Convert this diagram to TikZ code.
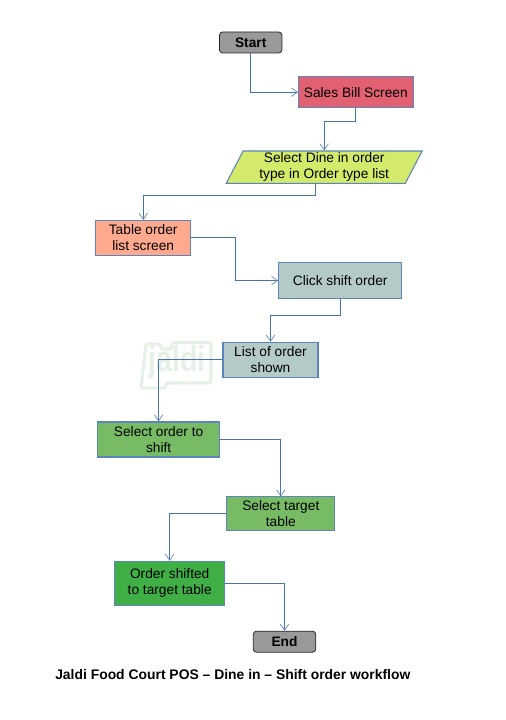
\documentclass[tikz,border=0pt]{standalone}
\usepackage{fontspec}
\setmainfont{Liberation Sans}
\usetikzlibrary{arrows.meta,shapes.geometric}
\definecolor{jfline}{HTML}{4674B2}
\definecolor{jfedge}{HTML}{5C85BD}
\definecolor{jfgray}{HTML}{999999}
\definecolor{jfred}{HTML}{E16173}
\definecolor{jflime}{HTML}{D4EA6B}
\definecolor{jfpeach}{HTML}{FFA98F}
\definecolor{jfsage}{HTML}{B3CAC7}
\definecolor{jfgreen}{HTML}{77BC65}
\definecolor{jfdeep}{HTML}{3FAF46}
\definecolor{jfhalo}{HTML}{E6F1E6}
\tikzset{
  procbox/.style 2 args={draw=jfedge, line width=0.8pt, align=center, inner sep=0pt,
    minimum width=#1*0.75pt, minimum height=#2*0.75pt,
    font=\fontsize{10.3}{11.9}\selectfont},
  termbox/.style={draw=black!85, fill=jfgray, rounded corners=2.4pt, line width=0.6pt,
    inner sep=0pt, minimum width=62.5*0.75pt, minimum height=21*0.75pt,
    font=\fontsize{10.3}{12}\selectfont\bfseries},
  flowarr/.style={jfline, line width=0.75pt,
    -{Straight Barb[length=4.6pt, width=6.4pt, line width=0.5pt, color=jfedge]}},
}
\begin{document}
\begin{tikzpicture}[x=0.75pt, y=-0.75pt]
  \useasboundingbox (0,0) rectangle (506,720);
  % watermark
  \draw[jfhalo, line width=2.4pt, rounded corners=1.7pt]
    (146,344) -- (161,344) -- (161,349) -- (172,349) -- (172,342.5) -- (211,342.5) -- (211,383)
    -- (166,383) -- (166,388) -- (141,388) -- cycle;
  \node[font=\fontsize{27}{27}\selectfont\bfseries, text=jfhalo, inner sep=0pt, transform shape, xscale=0.8] (logo) at (177,362) {jaldi};
  % boxes
  \node[termbox] (start) at (250.7,42.5) {Start};
  \node[procbox={114.5}{31}, fill=jfred] (sales) at (355.8,92.2) {Sales Bill Screen};
  \node[trapezium, trapezium left angle=65, trapezium right angle=115, trapezium stretches=true,
    procbox={196}{32.4}, fill=jflime, font=\fontsize{10.3}{12.2}\selectfont] (dine) at (324.2,167.2) {Select Dine in order\\type in Order type list};
  \node[procbox={95}{35}, fill=jfpeach] (tablelist) at (143.2,237.9) {Table order\\list screen};
  \node[procbox={123}{35.3}, fill=jfsage] (click) at (340.2,280.6) {Click shift order};
  \node[procbox={95}{35}, fill=jfsage] (orderlist) at (270.5,359.8) {List of order\\shown};
  \node[procbox={122.7}{35}, fill=jfgreen] (pick) at (158.6,439.5) {Select order to\\shift};
  \node[procbox={108.3}{33.7}, fill=jfgreen] (target) at (280.8,513.8) {Select target\\table};
  \node[procbox={110}{43.7}, fill=jfdeep] (shifted) at (169.7,583.2) {Order shifted\\to target table};
  \node[termbox] (finish) at (284.5,641.7) {End};
  \node[font=\fontsize{10.42}{12}\selectfont\bfseries, anchor=west, inner sep=0pt] (title) at (55,675)
    {Jaldi Food Court POS -- Dine in -- Shift order workflow};
  % connectors
  \draw[flowarr] (start.south) |- (sales.west);
  \draw[flowarr] (sales.south) -- ++(0,13.5) -| (dine.north);
  \draw[flowarr] (dine.bottom side) -- ++(0,12) -| (tablelist.north);
  \draw[flowarr] (tablelist.east) -- ++(44.3,0) |- (click.west);
  \draw[flowarr] (click.south) -- ++(0,16.7) -| (orderlist.north);
  \draw[flowarr] (orderlist.west) -| (pick.north);
  \draw[flowarr] (pick.east) -| (target.north);
  \draw[flowarr] (target.west) -| (shifted.north);
  \draw[flowarr] (shifted.east) -| (finish.north);
\end{tikzpicture}
\end{document}
